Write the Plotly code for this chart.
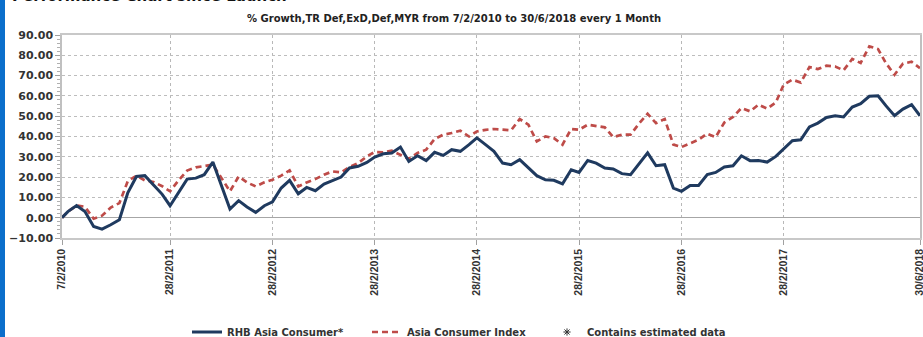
import pandas as pd
import plotly.graph_objects as go

# ---------------- data ----------------
dates = ["2010-02-07"] + [d.strftime("%Y-%m-%d") for d in pd.date_range("2010-02-28", "2018-06-30", freq="ME")]

rhb_fund = [
    0.0, 3.0, 6.0, 3.0, -4.3, -5.6, -3.5, -1.0, 12.3, 20.3, 20.7, 16.3,          # 2010
    11.5, 5.9, 12.5, 19.0, 19.5, 21.2, 27.4, 16.0, 4.3, 8.4, 5.3, 2.6,          # 2011
    5.9, 7.8, 14.6, 18.4, 11.8, 14.9, 13.3, 16.6, 18.4, 20.0, 24.5, 25.3,       # 2012
    27.2, 29.9, 31.5, 31.9, 34.8, 27.7, 30.5, 28.1, 32.2, 30.7, 33.5, 32.7,     # 2013
    36.0, 39.3, 36.0, 32.7, 26.9, 26.1, 28.6, 24.5, 20.7, 18.7, 18.4, 16.7,     # 2014
    23.6, 22.3, 28.2, 26.9, 24.5, 24.0, 21.7, 21.2, 26.6, 31.9, 25.6, 26.1,     # 2015
    14.6, 13.0, 15.9, 15.9, 21.2, 22.3, 25.0, 25.6, 30.5, 28.1, 28.2, 27.4,     # 2016
    30.2, 33.8, 37.9, 38.4, 44.7, 46.6, 49.4, 50.2, 49.6, 54.5, 56.2, 59.8,     # 2017
    60.1, 55.2, 50.2, 53.5, 55.7, 50.2,                                         # 2018
]

asia_index = [
    0.0, 3.0, 6.0, 5.4, -0.5, 1.0, 5.0, 7.2, 18.0, 20.7, 18.4, 17.6,            # 2010
    15.5, 13.0, 18.5, 23.2, 24.8, 25.6, 26.1, 19.5, 13.0, 20.3, 17.4, 15.4,     # 2011
    17.4, 18.7, 20.7, 23.3, 15.4, 17.4, 19.0, 21.2, 22.8, 22.3, 25.0, 26.9,     # 2012
    30.2, 32.4, 32.2, 33.0, 31.0, 29.0, 31.9, 33.5, 38.8, 40.9, 41.7, 42.9,     # 2013
    40.0, 42.5, 43.3, 43.7, 43.4, 43.0, 48.6, 45.8, 37.6, 40.0, 39.2, 36.0,     # 2014
    43.7, 43.3, 45.8, 45.0, 44.5, 39.7, 40.9, 40.9, 46.3, 51.2, 46.6, 48.6,     # 2015
    36.0, 34.8, 36.8, 38.4, 41.4, 39.7, 46.9, 49.6, 54.0, 52.4, 55.7, 53.7,     # 2016
    56.8, 65.5, 68.0, 66.6, 74.2, 73.2, 74.9, 74.5, 72.6, 78.2, 76.2, 84.4,     # 2017
    83.1, 76.2, 70.4, 75.9, 76.8, 73.7,                                         # 2018
]

tick_dates = ["2010-02-07", "2011-02-28", "2012-02-29", "2013-02-28", "2014-02-28",
              "2015-02-28", "2016-02-29", "2017-02-28", "2018-06-30"]
tick_labels = ["7/2/2010", "28/2/2011", "28/2/2012", "28/2/2013", "28/2/2014",
               "28/2/2015", "28/2/2016", "28/2/2017", "30/6/2018"]

series_names = ["RHB Asia Consumer*", "Asia Consumer Index"]
note_text = "Contains estimated data"
chart_title = "% Growth,TR Def,ExD,Def,MYR from 7/2/2010 to 30/6/2018 every 1 Month"
page_heading = "Performance Chart since Launch"

# ---------------- figure ----------------
W, H = 923, 337
ML, MR, MT, MB = 62, 3, 35, 99
PW, PH = W - ML - MR, H - MT - MB

fig = go.Figure()
fig.add_trace(go.Scatter(x=dates, y=asia_index, mode="lines", name=series_names[1], legendrank=2,
                         line=dict(color="#BE4B48", width=2.7, dash="6px,4px")))
fig.add_trace(go.Scatter(x=dates, y=rhb_fund, mode="lines", name=series_names[0], legendrank=1,
                         line=dict(color="#1F3A5F", width=3)))
fig.add_trace(go.Scatter(x=[None], y=[None], mode="markers", name=note_text, legendrank=3,
                         marker=dict(symbol="asterisk-open", size=6, color="#333333",
                                     line=dict(color="#333333", width=1))))

def px_x(p):
    return (p - ML) / PW

def px_y(p):
    return (H - MB - p) / PH

fig.update_layout(
    width=W, height=H,
    margin=dict(l=ML, r=MR, t=MT, b=MB, pad=0, autoexpand=False),
    paper_bgcolor="white", plot_bgcolor="white",
    font=dict(family="DejaVu Sans", size=10, color="#333333"),
    showlegend=True,
    legend=dict(orientation="h", x=px_x(187), xanchor="left", y=px_y(332), yanchor="middle",
                font=dict(family="DejaVu Sans", size=10, color="#333333", weight="bold"),
                entrywidth=135, entrywidthmode="pixels",
                traceorder="normal", bgcolor="rgba(0,0,0,0)"),
    xaxis=dict(type="date", range=["2010-02-07", "2018-06-30"],
               tickvals=tick_dates, ticktext=tick_labels, tickangle=-90,
               ticklabeloverflow="allow",
               tickfont=dict(family="Liberation Sans", size=10.5, color="#333333", weight="bold"),
               ticks="outside", ticklen=5, tickcolor="#A0A0A0",
               showgrid=True, gridcolor="#B8B8B8", griddash="dot", gridwidth=1,
               showline=True, linecolor="#C8C8C8", linewidth=1.5, mirror=True,
               zeroline=False),
    yaxis=dict(range=[-10, 90], dtick=10, tick0=0, tickformat=".2f",
               tickfont=dict(family="DejaVu Sans", size=11, color="#333333", weight="bold"),
               ticks="outside", ticklen=5, tickcolor="#A0A0A0",
               minor=dict(ticks="outside", dtick=2, ticklen=3, tickcolor="#B0B0B0", showgrid=False),
               showgrid=True, gridcolor="#BDBDBD", griddash="dot", gridwidth=1,
               showline=True, linecolor="#C0C0C0", linewidth=1.5, mirror=True,
               zeroline=True, zerolinecolor="#A6A6A6", zerolinewidth=1.2),
    shapes=[dict(type="rect", xref="paper", yref="paper",
                 x0=px_x(0), x1=px_x(5), y0=px_y(H + 5), y1=px_y(-5),
                 fillcolor="#0B6FCB", line=dict(width=0), layer="above")],
    annotations=[
        dict(text="<b>" + chart_title + "</b>", xref="paper", yref="paper",
             x=px_x(454), y=px_y(18), xanchor="center", yanchor="middle", showarrow=False,
             font=dict(family="DejaVu Sans", size=10, color="#222222")),
        dict(text="<b>" + page_heading + "</b>", xref="paper", yref="paper",
             x=px_x(10), y=px_y(-4), xanchor="left", yanchor="middle", showarrow=False,
             font=dict(family="DejaVu Sans", size=15, color="#111111")),
    ],
)

fig.write_html("out.html")
